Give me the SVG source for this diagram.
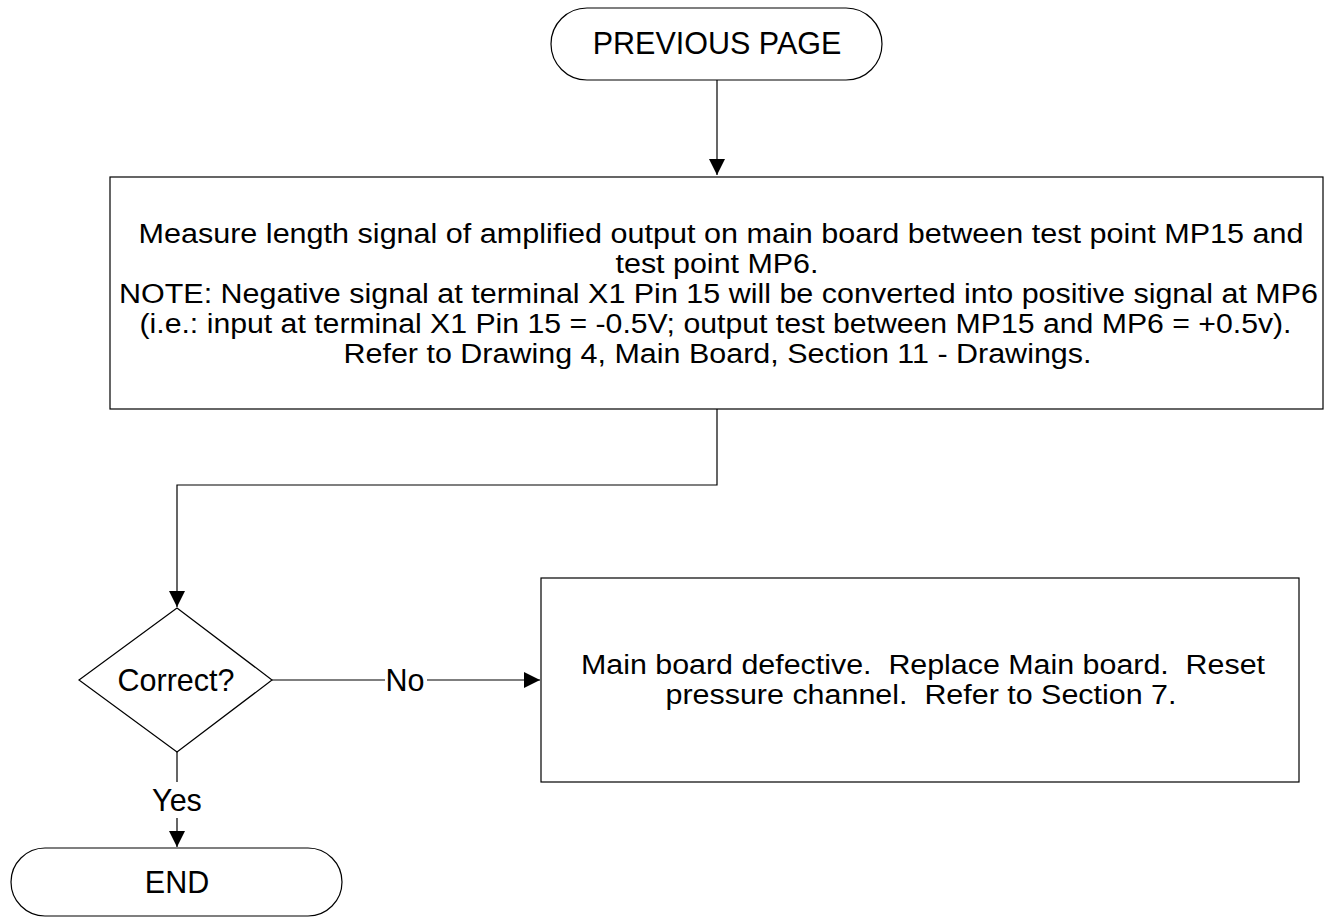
<svg xmlns="http://www.w3.org/2000/svg" width="1340" height="917" viewBox="0 0 1340 917">
<defs>
<style>
.s{fill:#fff;stroke:#000;stroke-width:1.2}
.t{font-family:"Liberation Sans",Arial,sans-serif;font-size:30.5px;fill:#000;text-anchor:middle;white-space:pre}
.m{font-size:26.8px}
.c{fill:none;stroke:#000;stroke-width:1.2}
</style>
<marker id="a" viewBox="0 0 10 10" refX="10" refY="5" markerWidth="16" markerHeight="16" markerUnits="userSpaceOnUse" orient="auto"><path d="M0,0L10,5L0,10z" fill="#000"/></marker>
</defs>
<rect width="1340" height="917" fill="#fff"/>
<g id="connectors">
<path class="c" d="M717,80V175" marker-end="url(#a)"/>
<path class="c" d="M717,409V485H177V607" marker-end="url(#a)"/>
<path class="c" d="M272,680H385M427,680H540" marker-end="url(#a)"/>
<path class="c" d="M177,752V782M177,818V847" marker-end="url(#a)"/>
<text class="t" x="405" y="691">No</text>
<text class="t" x="177" y="811">Yes</text>
</g>
<g id="start">
<rect class="s" x="551" y="8" width="331" height="72" rx="36"/>
<text class="t" x="717" y="54">PREVIOUS PAGE</text>
</g>
<g id="measure">
<rect class="s" x="110" y="177" width="1213" height="232"/>
<text class="t m" x="721" y="243" textLength="1165" lengthAdjust="spacingAndGlyphs">Measure length signal of amplified output on main board between test point MP15 and</text>
<text class="t m" x="717" y="273" textLength="203" lengthAdjust="spacingAndGlyphs">test point MP6.</text>
<text class="t m" x="718.5" y="303" textLength="1199" lengthAdjust="spacingAndGlyphs">NOTE: Negative signal at terminal X1 Pin 15 will be converted into positive signal at MP6</text>
<text class="t m" x="715.5" y="333" textLength="1152" lengthAdjust="spacingAndGlyphs">(i.e.: input at terminal X1 Pin 15 = -0.5V; output test between MP15 and MP6 = +0.5v).</text>
<text class="t m" x="717.5" y="363" textLength="748" lengthAdjust="spacingAndGlyphs">Refer to Drawing 4, Main Board, Section 11 - Drawings.</text>
</g>
<g id="decision">
<path class="s" d="M177,608L272,680L177,752L79,680Z"/>
<text class="t" x="176" y="691">Correct?</text>
</g>
<g id="defective">
<rect class="s" x="541" y="578" width="758" height="204"/>
<text class="t m" x="923" y="674" textLength="684" lengthAdjust="spacingAndGlyphs">Main board defective.  Replace Main board.  Reset</text>
<text class="t m" x="921" y="704" textLength="511" lengthAdjust="spacingAndGlyphs">pressure channel.  Refer to Section 7.</text>
</g>
<g id="end">
<rect class="s" x="11" y="848" width="331" height="68" rx="34"/>
<text class="t" x="177" y="893">END</text>
</g>
</svg>
